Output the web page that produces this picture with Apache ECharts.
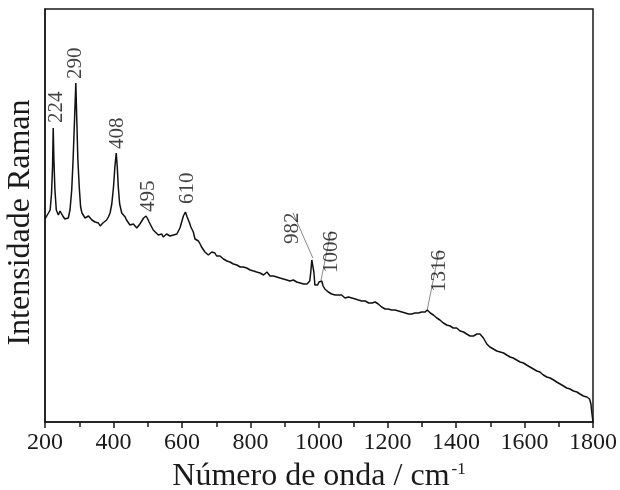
<!DOCTYPE html>
<html>
<head>
<meta charset="utf-8">
<script src="https://cdn.jsdelivr.net/npm/echarts@6/dist/echarts.min.js"></script>
<style>
  html, body { margin: 0; padding: 0; background: #fff; }
  #main { width: 620px; height: 490px; }
</style>
</head>
<body>
<div id="main"></div>
<script>
// Raman spectrum: [wavenumber (cm-1), intensity (a.u.)]
var spectrum = [
  [200, 203], [205, 206], [210, 208], [215, 212], [219, 228], [222, 255], [224, 294], [226, 262], [229, 232], [233, 212],
  [239, 207], [244, 211], [247, 209], [252, 206], [258, 203], [263, 205], [268, 204], [273, 212], [278, 232], [282, 262],
  [286, 300], [290, 339], [293, 300], [296, 262], [300, 235], [304, 215], [308, 209], [312, 207], [317, 204], [322, 204],
  [327, 206], [331, 205], [337, 202], [342, 203], [346, 200], [351, 198], [356, 199], [361, 196], [365, 198], [369, 199],
  [374, 197], [380, 202], [385, 205], [390, 209], [395, 218], [400, 235], [404, 255], [408, 269], [411, 255], [414, 235],
  [418, 218], [424, 209], [429, 207], [434, 205], [438, 202], [443, 200], [448, 197], [453, 195], [458, 198], [463, 197],
  [468, 194], [472, 195], [477, 198], [482, 200], [488, 204], [495, 206], [500, 203], [504, 200], [510, 196], [516, 192],
  [522, 190], [527, 188], [531, 187], [536, 186], [541, 188], [545, 185], [550, 187], [555, 188], [560, 189], [565, 186],
  [570, 188], [575, 187], [580, 189], [585, 188], [589, 190], [594, 194], [599, 200], [604, 206], [610, 210], [615, 205],
  [621, 200], [626, 195], [633, 190], [638, 183], [643, 185], [648, 181], [653, 178], [657, 175], [662, 173], [667, 170],
  [672, 168], [677, 167], [682, 169], [687, 170], [692, 168], [696, 169], [701, 166], [706, 168], [711, 166], [716, 165],
  [721, 163], [726, 164], [731, 161], [735, 162], [740, 160], [745, 161], [750, 158], [755, 159], [760, 157], [765, 158],
  [770, 155], [774, 157], [779, 155], [784, 156], [789, 154], [794, 155], [799, 152], [804, 153], [809, 151], [813, 152],
  [818, 150], [823, 151], [828, 149], [833, 150], [838, 147], [843, 149], [848, 150], [852, 149], [857, 146], [862, 147],
  [867, 146], [872, 147], [877, 145], [882, 146], [886, 144], [891, 145], [896, 143], [901, 144], [906, 142], [910, 144],
  [915, 141], [920, 143], [925, 142], [930, 142], [935, 140], [940, 141], [945, 139], [950, 140], [955, 138], [960, 140],
  [965, 138], [969, 139], [973, 141], [976, 150], [979, 162], [982, 164], [985, 150], [988, 137], [992, 135], [996, 137],
  [1000, 140], [1004, 142], [1008, 141], [1012, 136], [1017, 133], [1022, 131], [1027, 130], [1032, 131], [1037, 128], [1042, 129],
  [1047, 127], [1051, 128], [1056, 127], [1061, 125], [1066, 127], [1071, 126], [1076, 124], [1081, 125], [1086, 125], [1091, 123],
  [1096, 124], [1101, 122], [1106, 123], [1111, 121], [1115, 122], [1120, 120], [1125, 121], [1130, 119], [1135, 121], [1140, 120],
  [1145, 119], [1150, 117], [1155, 119], [1160, 118], [1164, 120], [1168, 121], [1173, 118], [1178, 116], [1183, 115], [1188, 114],
  [1193, 113], [1198, 112], [1202, 113], [1207, 111], [1212, 112], [1217, 110], [1222, 112], [1227, 110], [1232, 111], [1237, 109],
  [1242, 110], [1247, 108], [1252, 109], [1256, 107], [1261, 108], [1266, 106], [1271, 108], [1276, 109], [1280, 109], [1285, 110],
  [1290, 109], [1295, 111], [1300, 110], [1305, 111], [1310, 110], [1316, 112], [1320, 111], [1325, 109], [1330, 107], [1334, 107],
  [1339, 105], [1344, 104], [1349, 103], [1353, 102], [1358, 100], [1363, 99], [1368, 98], [1373, 97], [1378, 96], [1383, 96],
  [1388, 94], [1392, 94], [1397, 93], [1402, 94], [1407, 92], [1412, 91], [1417, 91], [1422, 90], [1426, 90], [1431, 88],
  [1436, 86], [1441, 86], [1446, 85], [1451, 86], [1456, 87], [1461, 88], [1465, 89], [1470, 88], [1475, 86], [1480, 84],
  [1485, 81], [1490, 78], [1495, 76], [1499, 75], [1504, 75], [1509, 73], [1514, 73], [1519, 71], [1524, 72], [1529, 70],
  [1534, 69], [1539, 69], [1544, 67], [1548, 67], [1553, 66], [1558, 65], [1563, 65], [1567, 64], [1572, 63], [1577, 62],
  [1582, 61], [1587, 60], [1592, 60], [1597, 59], [1601, 59], [1606, 57], [1611, 56], [1616, 55], [1621, 54], [1626, 53],
  [1631, 52], [1636, 51], [1641, 51], [1645, 50], [1650, 48], [1655, 47], [1660, 46], [1665, 45], [1670, 44], [1675, 44],
  [1680, 42], [1685, 42], [1690, 41], [1694, 40], [1699, 39], [1704, 38], [1709, 37], [1714, 36], [1718, 35], [1723, 34],
  [1728, 33], [1733, 33], [1738, 32], [1743, 31], [1748, 30], [1753, 30], [1758, 28], [1762, 28], [1767, 27], [1772, 26],
  [1777, 25], [1782, 25], [1786, 24], [1790, 23], [1794, 18], [1797, 8], [1800, 0]
];

// assigned bands
var peakPositions = [224, 290, 408, 495, 610, 982, 1006, 1316];

// label nudges in the rotated text frame: [along text (up), across text (right)] px
var labelShift = {
  224: [0, 3], 290: [-1, 0], 408: [-1, 1], 495: [-1, 2], 610: [3, 2],
  982: [9, -20], 1006: [2, 10], 1316: [13, 12]
};

function heightAt(w) {
  var best = spectrum[0];
  spectrum.forEach(function (p) {
    if (Math.abs(p[0] - w) < Math.abs(best[0] - w)) best = p;
  });
  return best[1];
}

var peakData = peakPositions.map(function (w) {
  var item = { value: [w, heightAt(w)], name: String(w) };
  if (w === 982 || w === 1006 || w === 1316) {
    item.labelLine = { show: true };
  }
  return item;
});

var serif = 'Liberation Serif';
var chart = echarts.init(document.getElementById('main'), null, { renderer: 'canvas' });

var option = {
  animation: false,
  grid: {
    left: 45, right: 27, top: 9, bottom: 68,
    containLabel: false,
    outerBoundsMode: 'none',
    show: true, borderColor: '#1a1a1a', borderWidth: 1.5, backgroundColor: 'transparent'
  },
  xAxis: {
    type: 'value',
    min: 200, max: 1800, interval: 200,
    name: '{t|Número de onda / cm}{s|-1}',
    nameLocation: 'middle',
    nameGap: 39,
    nameTextStyle: {
      rich: {
        t: { fontFamily: serif, fontSize: 32, color: '#1a1a1a' },
        s: { fontFamily: serif, fontSize: 17, color: '#1a1a1a', verticalAlign: 'top', padding: [0, 0, 14, 2] }
      }
    },
    axisLine: { show: true, lineStyle: { color: '#1a1a1a', width: 1.5 } },
    axisTick: { show: true, inside: false, length: 6, lineStyle: { color: '#1a1a1a', width: 1.5 } },
    minorTick: { show: true, splitNumber: 2, length: 5, lineStyle: { color: '#1a1a1a', width: 1.5 } },
    axisLabel: {
      fontFamily: serif, fontSize: 24, color: '#1a1a1a', margin: 9,
      formatter: function (v) { return String(v); }
    },
    splitLine: { show: false }
  },
  yAxis: {
    type: 'value',
    min: 0, max: 413,
    name: 'Intensidade Raman',
    nameLocation: 'middle',
    nameGap: 8,
    nameTextStyle: { fontFamily: serif, fontSize: 32, color: '#1a1a1a', padding: [0, 14, 0, 0] },
    axisLine: { show: true, lineStyle: { color: '#1a1a1a', width: 1.5 } },
    axisTick: { show: false },
    axisLabel: { show: false },
    splitLine: { show: false }
  },
  series: [
    {
      name: 'Raman',
      type: 'line',
      data: spectrum,
      showSymbol: false,
      smooth: false,
      lineStyle: { color: '#111', width: 1.5 },
      silent: true
    },
    {
      name: 'bands',
      type: 'scatter',
      data: peakData,
      symbolSize: 0,
      silent: true,
      label: {
        show: true,
        position: 'top',
        distance: 5,
        rotate: 90,
        align: 'left',
        verticalAlign: 'middle',
        formatter: '{b}',
        fontFamily: serif,
        fontSize: 21,
        color: '#111'
      },
      labelLine: { show: false, lineStyle: { color: '#888', width: 1 } },
      labelLayout: function (params) {
        var w = peakPositions[params.dataIndex];
        var s = labelShift[w];
        return { dx: s[0], dy: s[1] };
      }
    }
  ]
};

chart.setOption(option);
</script>
</body>
</html>
